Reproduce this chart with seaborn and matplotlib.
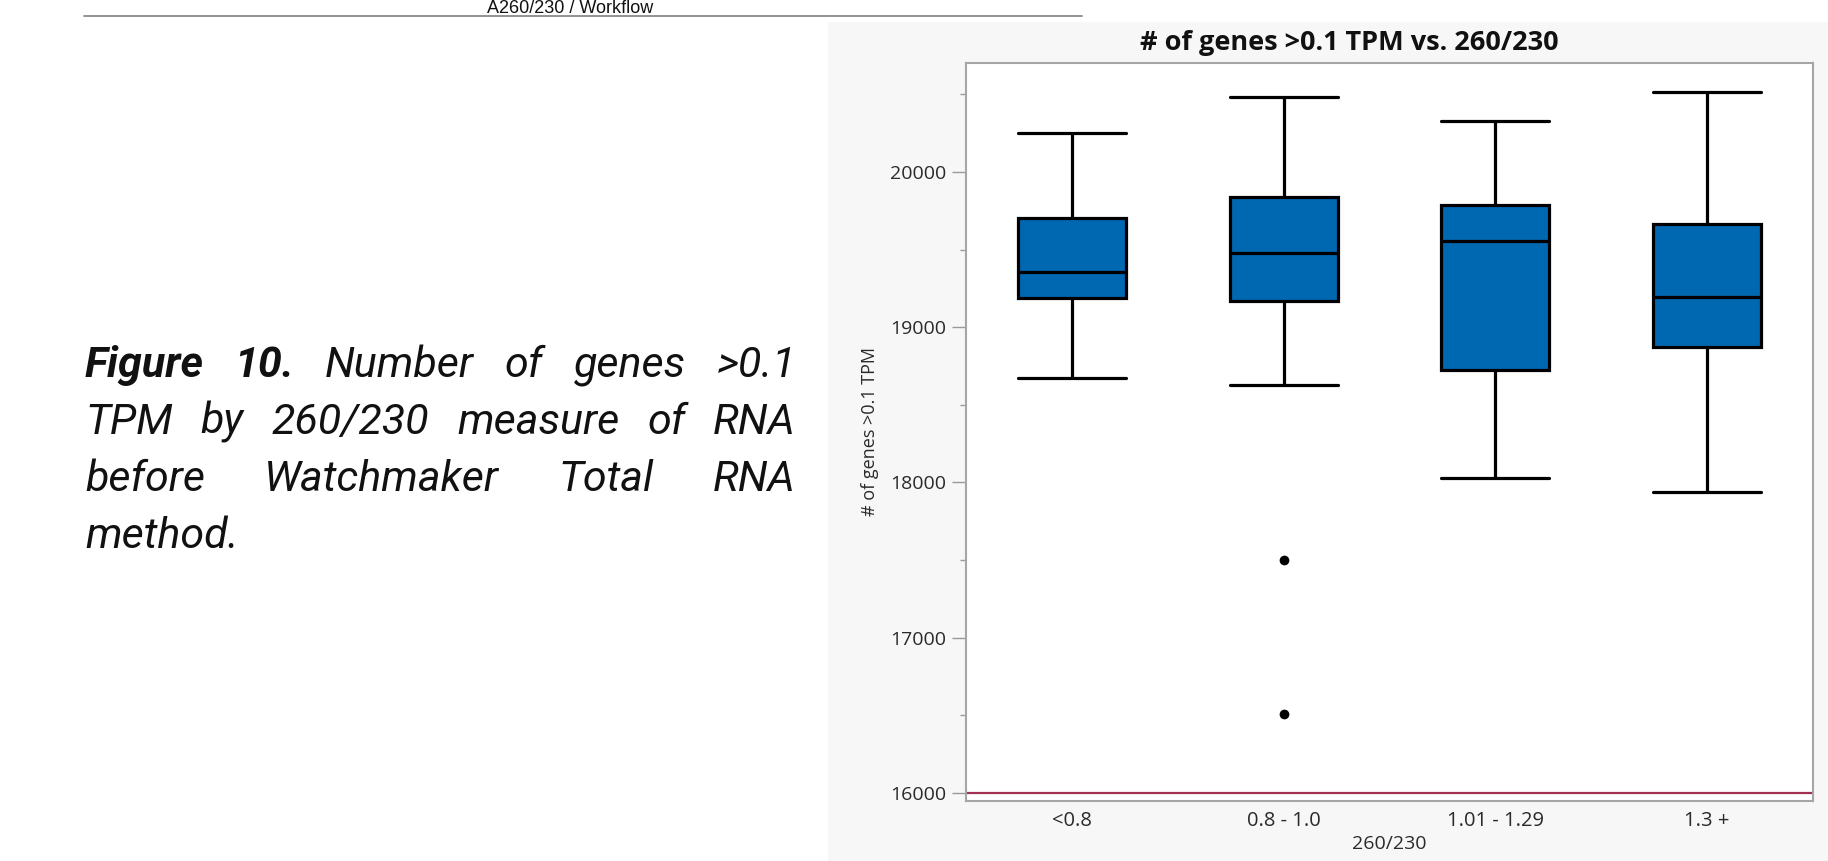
import matplotlib
matplotlib.use("Agg")
import matplotlib.pyplot as plt
from matplotlib.patches import Rectangle
from matplotlib.lines import Line2D
from matplotlib.ticker import MultipleLocator
import seaborn as sns
import pandas as pd

# ---- data: five-number summaries per 260/230 bin, plus outliers ----
categories = ["<0.8", "0.8 - 1.0", "1.01 - 1.29", "1.3 +"]
whisker_low = [18671, 18628, 18031, 17939]
q1 = [19186, 19169, 18725, 18871]
median = [19356, 19480, 19558, 19193]
q3 = [19702, 19841, 19787, 19665]
whisker_high = [20253, 20485, 20329, 20517]
outlier_cat = ["0.8 - 1.0", "0.8 - 1.0"]
outlier_vals = [17501, 16507]
y_ticks = [16000, 17000, 18000, 19000, 20000]

box_rows = []
for i, cat in enumerate(categories):
    for v in (whisker_low[i], q1[i], median[i], q3[i], whisker_high[i]):
        box_rows.append({"bin": cat, "genes": v})
box_df = pd.DataFrame(box_rows)
out_df = pd.DataFrame({"bin": outlier_cat, "genes": outlier_vals})

sns.set_theme(style="white")
plt.rcParams["font.family"] = ["Open Sans", "DejaVu Sans"]

W, H = 1828, 861
fig = plt.figure(figsize=(W / 100, H / 100), dpi=100)
fig.patch.set_facecolor("white")

# light grey report panel behind the chart
fig.patches.append(Rectangle((828 / W, 0), 1 - 828 / W, 1 - 22 / H,
                             transform=fig.transFigure, facecolor="#f7f7f7",
                             edgecolor="none", zorder=-5))

# slide header remnant
fig.lines.append(Line2D([84 / W, 1082 / W], [1 - 16 / H, 1 - 16 / H],
                        transform=fig.transFigure, color="#8a8a8a", lw=1.3,
                        zorder=-4))
fig.text(570 / W, 1 - 13 / H, "A260/230 / Workflow", ha="center", va="baseline",
         fontsize=13, family=["Liberation Sans"], color="#111111")

ax = fig.add_axes([966 / W, 1 - 801 / H, (1813 - 966) / W, (801 - 63) / H])
ax.set_facecolor("white")

sns.boxplot(data=box_df, x="bin", y="genes", order=categories, ax=ax,
            color="#0067b1", saturation=1, width=0.51, whis=(0, 100),
            linecolor="black", linewidth=2.3, capwidths=0.51)
sns.stripplot(data=out_df, x="bin", y="genes", order=categories, ax=ax,
              jitter=False, color="black", size=7, zorder=5)

ax.axhline(16000, color="#a0304f", lw=1.6, zorder=1)

ax.set_xlim(-0.5, 3.5)
ax.set_ylim(15948, 20702)
ax.set_yticks(y_ticks)
ax.yaxis.set_minor_locator(MultipleLocator(500))
ax.tick_params(axis="y", which="major", left=True, length=10, width=1,
               color="#9a9a9a", labelsize=14, labelcolor="#2a2a2a", pad=4)
ax.tick_params(axis="y", which="minor", left=True, length=4, width=1,
               color="#9a9a9a")
ax.tick_params(axis="x", bottom=False, labelsize=14.5, labelcolor="#2a2a2a", pad=1)
for s in ax.spines.values():
    s.set_visible(True)
    s.set_color("#a6a6a6")
    s.set_linewidth(1.5)

ax.set_xlabel("260/230", fontsize=14, color="#2a2a2a", labelpad=3)
ax.set_ylabel("# of genes >0.1 TPM", fontsize=13, color="#2a2a2a", labelpad=8)

fig.text(1349 / W, 1 - 43 / H, "# of genes >0.1 TPM vs. 260/230", ha="center",
         va="center", fontsize=19.5, fontweight="bold", color="#111111")

# justified figure caption on the left
cap_lines = [
    [("Figure", True), ("10.", True), ("Number", False), ("of", False),
     ("genes", False), (">0.1", False)],
    [("TPM", False), ("by", False), ("260/230", False), ("measure", False),
     ("of", False), ("RNA", False)],
    [("before", False), ("Watchmaker", False), ("Total", False), ("RNA", False)],
    [("method.", False)],
]
left_px, right_px = 85, 796
baselines = [377, 434, 491, 548]
renderer = fig.canvas.get_renderer()
for li, words in enumerate(cap_lines):
    texts = []
    for w, bold in words:
        t = fig.text(0, 1 - baselines[li] / H, w, fontsize=31, style="italic",
                     fontweight="bold" if bold else "normal",
                     family=["Roboto", "DejaVu Sans"], color="#111111",
                     va="baseline", ha="left")
        texts.append(t)
    widths = [t.get_window_extent(renderer).width for t in texts]
    if li < len(cap_lines) - 1 and len(texts) > 1:
        gap = (right_px - left_px - sum(widths)) / (len(texts) - 1)
    else:
        gap = 9
    x = left_px
    for t, wd in zip(texts, widths):
        t.set_x(x / W)
        x += wd + gap

fig.savefig("out.png", dpi=100)
